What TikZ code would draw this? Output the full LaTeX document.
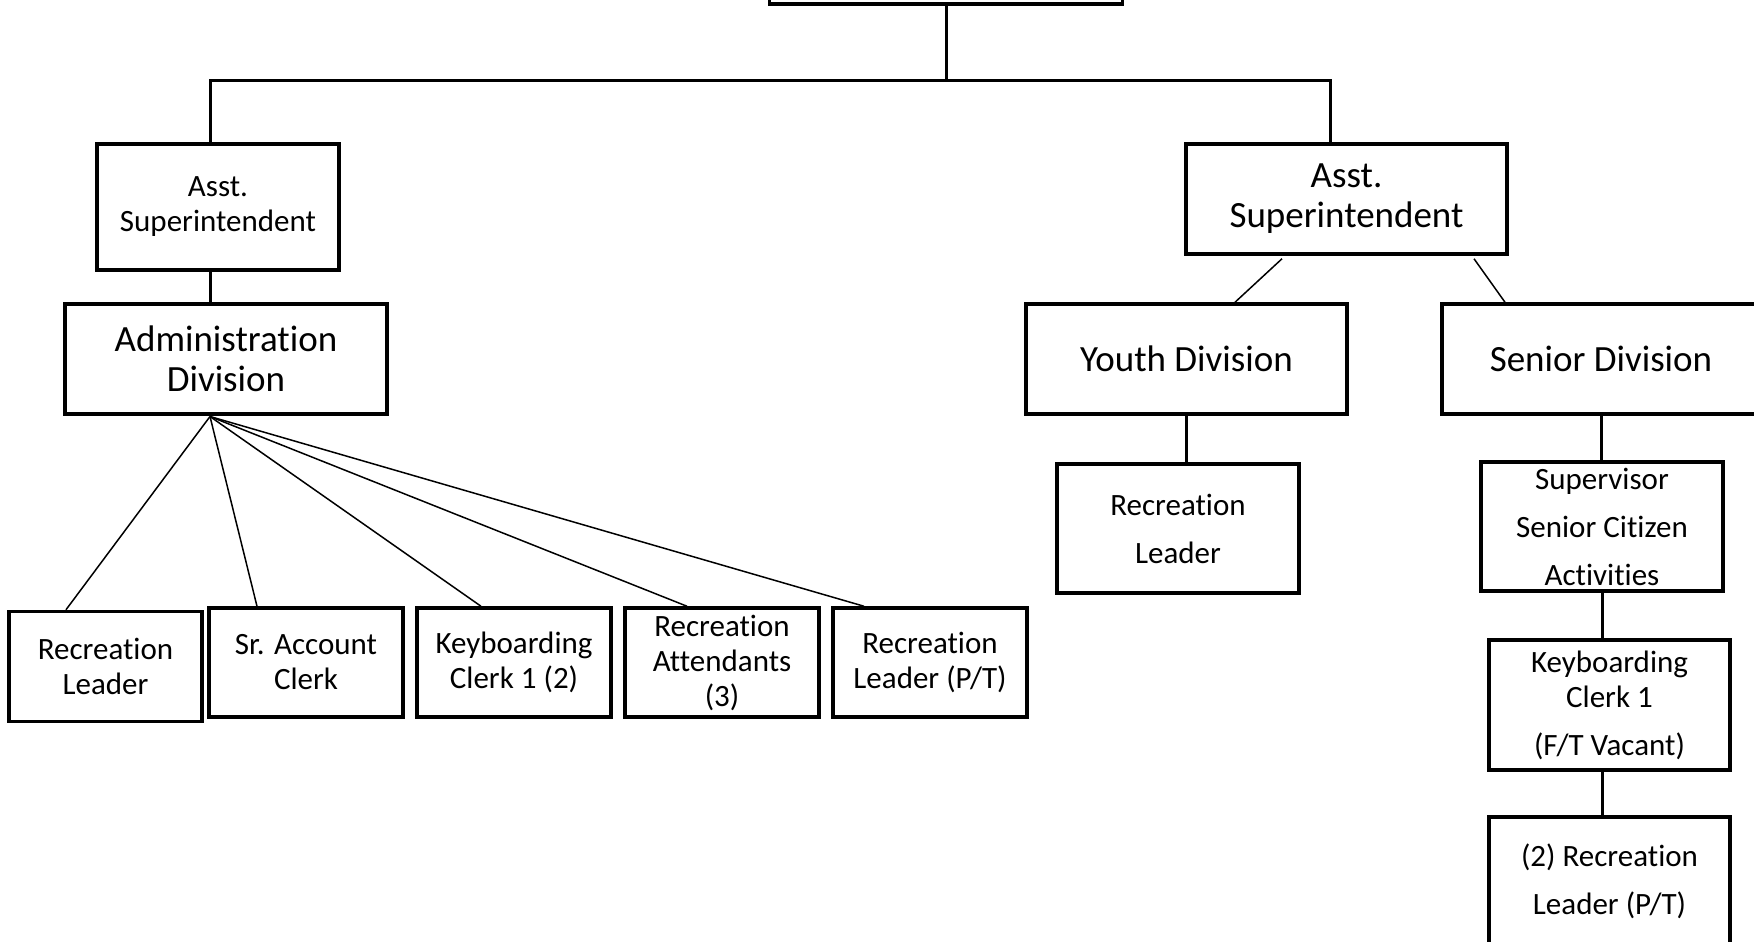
\documentclass[tikz,border=0pt]{standalone}
\usepackage{fontspec}
\setmainfont[Ligatures=NoCommon, RawFeature={-liga;-clig;-calt;-dlig}]{Carlito}
\usepackage{tikz}

\begin{document}
\begin{tikzpicture}[x=1pt, y=-1pt,
		box/.style={draw, line width=3.5pt, inner sep=0pt, align=center},
		small/.style={font=\fontsize{31}{35}\selectfont},
		big/.style={font=\fontsize{37}{40}\selectfont},
		loose/.style={font=\fontsize{31}{48}\selectfont},
		tree/.style={line width=3pt},
		fanline/.style={line width=1.5pt}]
	\useasboundingbox (0,0) rectangle (1754,942);

	% top of the chart, cut off by the page
	\node (top) at (946,-36) [box, minimum width=353pt, minimum height=80pt] {};

	\node (asstL) at (218,207) [box, small, minimum width=242pt, minimum height=126pt] {Asst.\\Superintendent};
	\node (asstR) at (1346.5,199) [box, big, minimum width=321pt, minimum height=110pt] {Asst.\\Superintendent};

	\node (admin) at (226,359) [box, big, minimum width=322pt, minimum height=110pt] {Administration\\Division};
	\node (youth) at (1186.5,359) [box, big, minimum width=321pt, minimum height=110pt] {Youth Division};
	\node (senior) at (1601,359) [box, big, minimum width=318pt, minimum height=110pt] {Senior Division};

	% administration staff
	\node (recL) at (105.5,666.5) [box, small, minimum width=193pt, minimum height=110pt] {Recreation\\Leader};
	\node (acct) at (306,662.5) [box, small, minimum width=194pt, minimum height=109pt] {Sr. Account\\Clerk};
	\node (keyb) at (514,662.5) [box, small, minimum width=194pt, minimum height=109pt] {Keyboarding\\Clerk 1 (2)};
	\node (attend) at (722,662.5) [box, small, minimum width=194pt, minimum height=109pt] {Recreation\\Attendants\\(3)};
	\node (recPT) at (930,662.5) [box, small, minimum width=194pt, minimum height=109pt] {Recreation\\Leader (P/T)};

	% youth and senior staff
	\node (youthRec) at (1178,528.5) [box, loose, minimum width=242pt, minimum height=129pt] {Recreation\\Leader};
	\node (superv) at (1602,526.5) [box, loose, minimum width=242pt, minimum height=129pt] {Supervisor\\Senior Citizen\\Activities};
	\node (keybS) at (1609.5,705) [box, small, minimum width=241pt, minimum height=130pt] {Keyboarding\\Clerk 1\\[13pt](F/T Vacant)};
	\node (recS) at (1609.5,881) [box, loose, minimum width=241pt, minimum height=128pt] {(2) Recreation\\Leader (P/T)};

	\coordinate (busL) at (210,80.5);
	\coordinate (busR) at (1330,80.5);
	\draw [tree] (top.south) -- (top.south |- busL);
	\draw [tree] (asstL.north -| busL) -- (busL) -- (busR) -- (asstR.north -| busR);
	\draw [tree] (asstL.south -| busL) -- (admin.north -| busL);
	\draw [tree] (youth.south) -- (youth.south |- youthRec.north);
	\draw [tree] (senior.south) -- (senior.south |- superv.north);
	\draw [tree] (superv.south) -- (superv.south |- keybS.north);
	\draw [tree] (superv.south |- keybS.south) -- (superv.south |- recS.north);

	\coordinate (fan) at (210,416.5);
	\draw [fanline] (fan) -- ([xshift=-39.5pt]recL.north);
	\draw [fanline] (fan) -- ([xshift=-49pt]acct.north);
	\draw [fanline] (fan) -- ([xshift=-33pt]keyb.north);
	\draw [fanline] (fan) -- ([xshift=-35pt]attend.north);
	\draw [fanline] (fan) -- ([xshift=-66pt]recPT.north);

	\draw [fanline] ([xshift=-64.5pt,yshift=-3pt]asstR.south) -- ([xshift=48.5pt]youth.north);
	\draw [fanline] ([xshift=127.5pt,yshift=-3pt]asstR.south) -- ([xshift=-96pt]senior.north);
\end{tikzpicture}
\end{document}
